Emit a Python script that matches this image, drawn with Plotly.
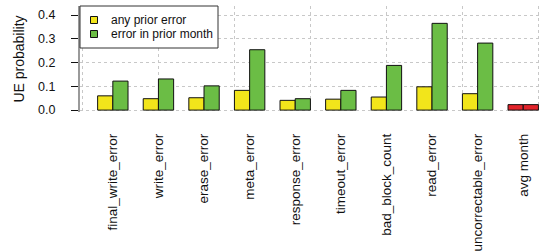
import plotly.graph_objects as go

categories = ["final_write_error", "write_error", "erase_error", "meta_error",
              "response_error", "timeout_error", "bad_block_count", "read_error",
              "uncorrectable_error", "avg month"]
any_prior = [0.060, 0.048, 0.052, 0.083, 0.041, 0.046, 0.055, 0.098, 0.069, 0.023]
prior_month = [0.122, 0.131, 0.102, 0.254, 0.048, 0.083, 0.188, 0.365, 0.282, 0.023]
series_names = ["any prior error", "error in prior month"]
y_ticks = [0.0, 0.1, 0.2, 0.3, 0.4]
y_tick_labels = ["0.0", "0.1", "0.2", "0.3", "0.4"]

YELLOW = "#F2E51B"
GREEN = "#6BBD45"
RED = "#E3242B"

W, H = 541, 251
ML, MR, MT, MB = 80, 0, 6, 139
PW, PH = W - ML - MR, H - MT - MB


def px_x(p):
    return (p - ML) / PW


def px_y(p):
    return 1 - (p - MT) / PH


pos = list(range(len(categories)))
yellow_cols = [YELLOW] * (len(categories) - 1) + [RED]
green_cols = [GREEN] * (len(categories) - 1) + [RED]

FONT = "Liberation Sans, Arial, Helvetica, sans-serif"

fig = go.Figure()
fig.add_trace(go.Bar(x=pos, y=any_prior, name=series_names[0], showlegend=False,
                     marker=dict(color=yellow_cols, line=dict(color="#111", width=1))))
fig.add_trace(go.Bar(x=pos, y=prior_month, name=series_names[1], showlegend=False,
                     marker=dict(color=green_cols, line=dict(color="#111", width=1))))

# vertical dotted grid at the original barplot's pretty x positions
grid_x = [(r - 2) / 3 for r in range(0, 31, 5)]
xr = [-0.72, 9.39]

# legend box drawn as layout decoration
shapes = [dict(type="rect", xref="paper", yref="paper",
               x0=px_x(80), x1=px_x(218), y0=px_y(48), y1=px_y(6),
               line=dict(color="#333", width=1), fillcolor="white", layer="above")]
annotations = []
for i, (nm, col) in enumerate(zip(series_names, [YELLOW, GREEN])):
    cy = 20 + 14 * i
    shapes.append(dict(type="rect", xref="paper", yref="paper",
                       x0=px_x(90.5), x1=px_x(97.5), y0=px_y(cy + 3.5), y1=px_y(cy - 3.5),
                       line=dict(color="#111", width=1), fillcolor=col, layer="above"))
    annotations.append(dict(text=nm, xref="paper", yref="paper", x=px_x(109),
                            y=px_y(cy), xanchor="left", yanchor="middle",
                            showarrow=False, font=dict(size=12, color="#111")))

fig.update_layout(
    width=W, height=H,
    margin=dict(l=ML, r=MR, t=MT, b=MB, autoexpand=False),
    paper_bgcolor="white", plot_bgcolor="white",
    font=dict(family=FONT, size=12, color="#111"),
    barmode="group", bargap=1/3, bargroupgap=0,
    showlegend=False,
    shapes=shapes, annotations=annotations,
    xaxis=dict(range=xr, tickmode="array", tickvals=pos, ticktext=categories,
               tickangle=-90, showgrid=False, zeroline=False, showline=False,
               ticks="", ticklabelstandoff=18, automargin=False,
               tickfont=dict(size=13.5, color="#111")),
    xaxis2=dict(range=xr, overlaying="x", tickmode="array",
                tickvals=grid_x, showticklabels=False, showgrid=True,
                gridcolor="#c8c8c8", griddash="dot", gridwidth=1,
                zeroline=False, showline=False, ticks="", automargin=False),
    yaxis=dict(range=[-0.008, 0.438], tickmode="array", tickvals=y_ticks,
               ticktext=y_tick_labels, showgrid=True, gridcolor="#c8c8c8",
               griddash="dot", gridwidth=1, zeroline=False, automargin=False,
               showline=True, linecolor="#9a9a9a", linewidth=2,
               ticks="outside", ticklen=7, tickcolor="#111", tickwidth=1,
               ticklabelstandoff=13, tickfont=dict(size=12.5, color="#111"),
               title=dict(text="UE probability", font=dict(size=14, color="#111"),
                          standoff=10)),
)
# invisible trace so the secondary x axis (grid only) is drawn
fig.add_trace(go.Scatter(x=[xr[0]], y=[0], xaxis="x2", mode="markers",
                         marker=dict(opacity=0), showlegend=False, hoverinfo="skip"))
fig.write_html("out.html", config={"displayModeBar": False},
               post_script="document.body.style.margin='0';document.body.style.overflow='hidden';")
